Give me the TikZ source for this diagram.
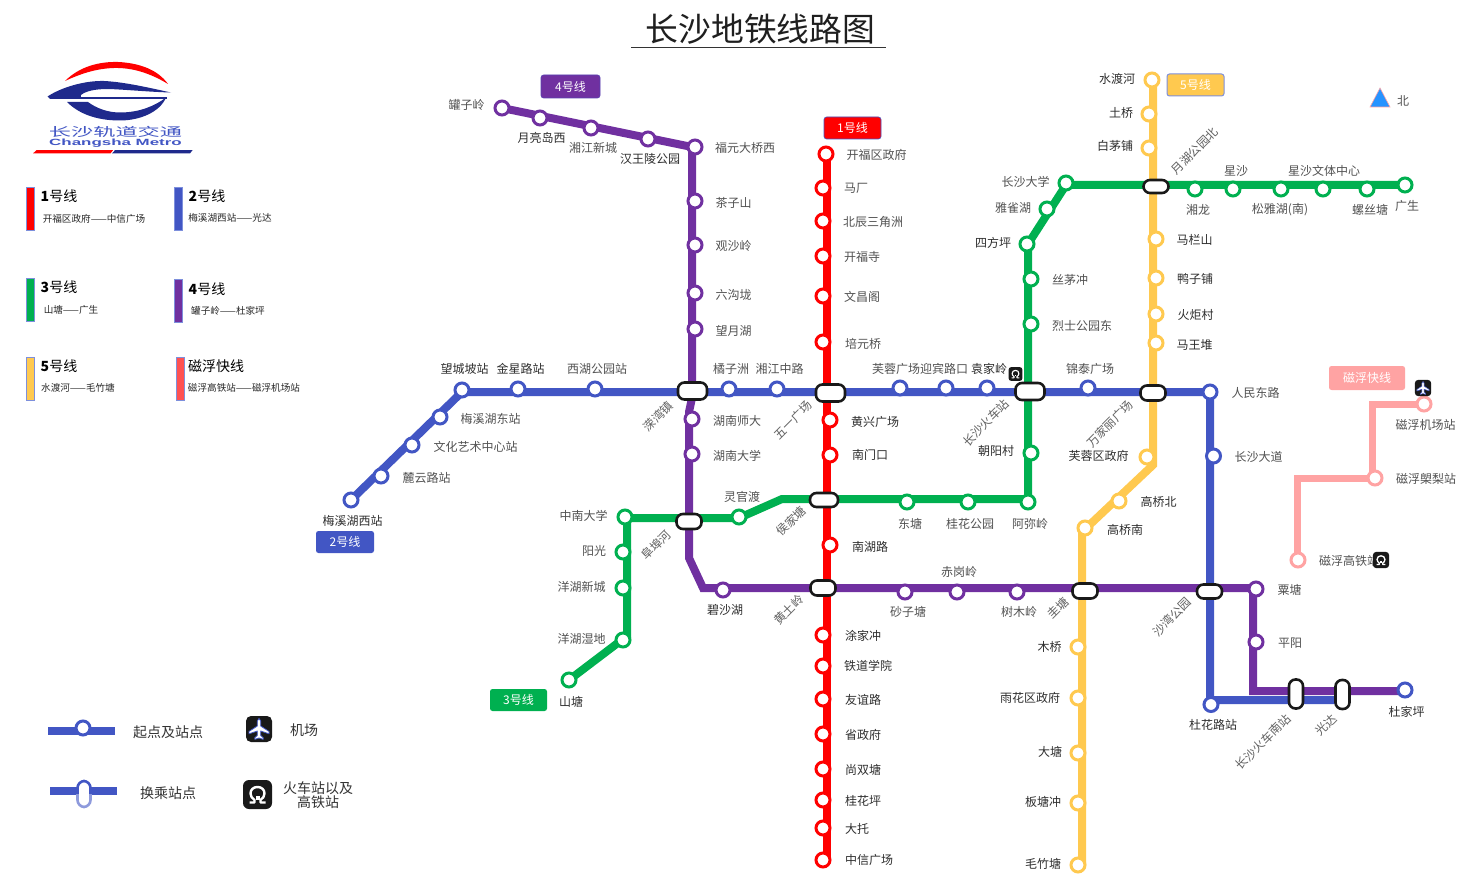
\documentclass[tikz,border=0pt]{standalone}
\usepackage{fontspec}
\setmainfont{Noto Sans CJK SC}
\newfontfamily\latinbold{Liberation Sans}
\definecolor{cred}{HTML}{FF0000}
\definecolor{cblue}{HTML}{4256C4}
\definecolor{cgreen}{HTML}{00B050}
\definecolor{cpurple}{HTML}{7030A0}
\definecolor{cyellow}{HTML}{FFC94F}
\definecolor{cpink}{HTML}{FFA3A3}
\definecolor{cnavy}{HTML}{1F2A8C}
\definecolor{cedge}{HTML}{7D8FDC}
\tikzset{
  metro/.style={line width=8pt,line join=miter},
  station/.style={circle,fill=white,line width=3pt,minimum size=14pt,inner sep=0pt},
  xchg/.style={rectangle,rounded corners=6.5pt,fill=white,draw=black!90,line width=2.6pt,inner sep=0pt},
  lbl/.style={text=black!68,font=\fontsize{12}{14}\selectfont,inner sep=0pt},
  lbd/.style={text=black!82,font=\fontsize{12}{14}\selectfont,inner sep=0pt},
  rlbl/.style={text=black!62,font=\fontsize{12}{14}\selectfont,inner sep=0pt,rotate=45},
  badge/.style={rectangle,rounded corners=2.5pt,text=white,font=\fontsize{12}{14}\selectfont,inner sep=0pt,minimum height=22pt},
  legbar/.style={rectangle,draw=cedge,line width=1pt,minimum width=8pt,minimum height=43pt,inner sep=0pt},
  legt/.style={text=black,font=\fontsize{14}{16}\selectfont,inner sep=0pt},
  legs/.style={text=black!85,font=\fontsize{9.6}{11}\selectfont,inner sep=0pt},
  legn/.style={text=black!80,font=\fontsize{14}{16}\selectfont,inner sep=0pt,align=center},
}
% id, x, y, colour, text, label x, label y
\newcommand{\stn}[8][lbl]{%
  \node[station,draw=#5] (#2) at (#3,#4) {};
  \node[#1] (#2-l) at (#7,#8) {#6};}
% id, x, y, w, h, text, label x, label y
\newcommand{\xch}[8]{%
  \node[xchg,minimum width=#4pt,minimum height=#5pt] (#1) at (#2,#3) {};
  \node[rlbl] (#1-l) at (#7,#8) {#6};}
% x, y, scale
\newcommand{\planeicon}[3]{%
  \begin{scope}[shift={(#1,#2)},scale=#3]
    \fill[black!90,rounded corners=#3*5pt] (-13,-13) rectangle (13,13);
    \fill[white,draw=cblue,line width=#3*.8pt,line join=round]
      (0,-10.5) -- (1.7,-8) -- (1.7,-3) -- (10,2.5) -- (10,4.8) -- (1.7,2) -- (1.7,6.5) -- (4.2,8.7) -- (4.2,10.3)
      -- (0,9) -- (-4.2,10.3) -- (-4.2,8.7) -- (-1.7,6.5) -- (-1.7,2) -- (-10,4.8) -- (-10,2.5) -- (-1.7,-3) -- (-1.7,-8) -- cycle;
  \end{scope}}
\newcommand{\trainicon}[3]{%
  \begin{scope}[shift={(#1,#2)},scale=#3]
    \fill[black!90,rounded corners=#3*6pt] (-14.5,-14.5) rectangle (14.5,14.5);
    \draw[white,line width=#3*2.4pt,line join=round]
      (-8,8) -- (-3,8) -- (-3,5.5) .. controls (-5.5,4) and (-7,1.5) .. (-7,-1)
      .. controls (-7,-5) and (-4,-7.5) .. (0,-7.5) .. controls (4,-7.5) and (7,-5) .. (7,-1)
      .. controls (7,1.5) and (5.5,4) .. (3,5.5) -- (3,8) -- (8,8);
    \fill[white] (-2,1.5) rectangle (2,5);
  \end{scope}}
\begin{document}
\begin{tikzpicture}[x=1pt,y=-1pt]
\useasboundingbox (0,0) rectangle (1469,885);
\fill[white] (0,0) rectangle (1469,885);

% ---------- title
\node[inner sep=0pt,text=black!88,font=\fontsize{32.8}{36}\selectfont] (title) at (760.5,29) {长沙地铁线路图};
\coordinate (ula) at (631,47);
\coordinate (ulb) at (886,47);
\draw[black!80,line width=.9pt] (ula) -- (ulb);

% ---------- logo
\fill[cred] (65,81) .. controls (80,66) and (100,61.5) .. (118,62)
  .. controls (140,63) and (158,70) .. (168,84) .. controls (150,73) and (132,67.5) .. (114,68)
  .. controls (96,68.5) and (80,74) .. (65,81) -- cycle;
\fill[cnavy] (47.5,96.5) .. controls (62,87) and (85,80.5) .. (104,81)
  .. controls (125,82) and (150,88) .. (171,92.5) .. controls (150,92) and (125,89.5) .. (108,89)
  .. controls (95,89) and (86,91) .. (81,95) .. controls (80,97) and (81,98) .. (83,99)
  -- (50,99) -- cycle;
\fill[cnavy] (67,102) -- (88,102) .. controls (96,108) and (108,113) .. (122,112.5)
  .. controls (140,112) and (155,106) .. (166,97.5) .. controls (160,112) and (140,120.5) .. (120,120.5)
  .. controls (95,120.5) and (78,113) .. (67,102) -- cycle;
\fill[cnavy] (81,96.8) rectangle (167,98.6);
\node[inner sep=0pt,text=cblue] (logoa) at (115.5,131.5) {\scalebox{1.85}[1]{\fontsize{12}{13}\selectfont 长沙轨道交通}};
\node[inner sep=0pt,text=cblue] (logob) at (115.5,143) {\scalebox{1.88}[1]{\latinbold\bfseries\fontsize{9}{10}\selectfont Changsha Metro}};
\fill[cred] (33,153.4) -- (36.5,150.2) -- (113,150.2) -- (110.5,153.4) -- cycle;
\fill[cnavy] (112,153.4) -- (115,150.2) -- (192.5,150.2) -- (190,153.4) -- cycle;

% ---------- line legend
\node[legbar,fill=cred] (kb1) at (30,209) {};
\node[legt] (kt1) at (59,196.5) {\textbf{1}号线};
\node[legs] (ks1) at (94,218.5) {开福区政府——中信广场};
\node[legbar,fill=cblue] (kb2) at (178,209) {};
\node[legt] (kt2) at (207,196.5) {\textbf{2}号线};
\node[legs] (ks2) at (230,218) {梅溪湖西站——光达};
\node[legbar,fill=cgreen] (kb3) at (30,300) {};
\node[legt] (kt3) at (59,287) {\textbf{3}号线};
\node[legs] (ks3) at (71,309.5) {山塘——广生};
\node[legbar,fill=cpurple] (kb4) at (178,301) {};
\node[legt] (kt4) at (207,289) {\textbf{4}号线};
\node[legs] (ks4) at (228,311) {罐子岭——杜家坪};
\node[legbar,fill=cyellow] (kb5) at (30,378.5) {};
\node[legt] (kt5) at (59,366) {\textbf{5}号线};
\node[legs] (ks5) at (78,388) {水渡河——毛竹塘};
\node[legbar,fill=cred!50!cpink] (kb6) at (180,378.5) {};
\node[legt] (kt6) at (216,366) {磁浮快线};
\node[legs] (ks6) at (244,388) {磁浮高铁站——磁浮机场站};

% ---------- symbol legend
\coordinate (sa) at (48,731);
\coordinate (sb) at (115,731);
\draw[metro,cblue] (sa) -- (sb);
\node[station,draw=cblue] (sc) at (83,728) {};
\node[legn] (sd) at (168,732) {起点及站点};
\coordinate (se) at (50,791);
\coordinate (sf) at (117,791);
\draw[metro,cblue] (se) -- (sf);
\node[rectangle,rounded corners=7pt,fill=white,minimum width=13pt,minimum height=26pt,inner sep=0pt] (sg) at (84,794) {};
\begin{scope}
  \clip (70,775) rectangle (98,794);
  \draw[cblue,line width=2.6pt,rounded corners=7pt] (77.5,781) rectangle (90.5,807);
\end{scope}
\begin{scope}
  \clip (70,794) rectangle (98,812);
  \draw[cblue!60!white,line width=2.6pt,rounded corners=7pt] (77.5,781) rectangle (90.5,807);
\end{scope}
\node[legn] (si) at (168,793) {换乘站点};
\planeicon{259}{729}{1}
\node[legn] (sj) at (304,730) {机场};
\trainicon{257.5}{794.5}{1}
\node[legn] (sk) at (318,795) {火车站以及\\[-2pt]高铁站};

% ---------- north
\fill[blue!50!cyan!85!white,draw=cpink,line width=.6pt] (1380,88) -- (1390,107) -- (1370,107) -- cycle;
\node[lbl] (north) at (1403,101) {北};

% ---------- line paths
\coordinate (b1) at (462,392);
\coordinate (b2) at (1210,392);
\coordinate (b3) at (1210,700);
\coordinate (b4) at (1342,700);
\coordinate (b0) at (351,500);
\draw[metro,cblue] (b0) -- (b1) -- (b2) -- (b3) -- (b4);

\coordinate (p0) at (502,108);
\coordinate (p1) at (692,147);
\coordinate (p2) at (692,398);
\coordinate (p3) at (689,412);
\coordinate (p4) at (689,558);
\coordinate (p5) at (703,588);
\coordinate (p6) at (1253,588);
\coordinate (p7) at (1253,691);
\coordinate (p8) at (1405,691);
\draw[metro,cpurple] (p0) -- (p1) -- (p2) -- (p3) -- (p4) -- (p5) -- (p6) -- (p7) -- (p8);

\coordinate (r0) at (827,154);
\coordinate (r1) at (827,860);
\draw[metro,cred] (r0) -- (r1);

\coordinate (g0) at (569,680);
\coordinate (g1) at (627,636);
\coordinate (g2) at (627,518);
\coordinate (g3) at (739,518);
\coordinate (g4) at (782,499);
\coordinate (g5) at (1028,499);
\coordinate (g6) at (1028,244);
\coordinate (g7) at (1066,185);
\coordinate (g8) at (1405,185);
\draw[metro,cgreen] (g0) -- (g1) -- (g2) -- (g3) -- (g4) -- (g5) -- (g6) -- (g7) -- (g8);

\coordinate (y0) at (1153,80);
\coordinate (y1) at (1153,465);
\coordinate (y2) at (1082,532);
\coordinate (y3) at (1082,865);
\draw[metro,cyellow] (y0) -- (y1) -- (y2) -- (y3);

\coordinate (m0) at (1297,560);
\coordinate (m1) at (1297,478);
\coordinate (m2) at (1372,478);
\coordinate (m3) at (1372,404);
\coordinate (m4) at (1424,404);
\draw[metro,line width=7pt,cpink] (m0) -- (m1) -- (m2) -- (m3) -- (m4);

% ---------- line 1
\stn{kaifu}{826}{154}{cred}{开福区政府}{876.5}{155}
\stn{machang}{823}{188}{cred}{马厂}{856}{188}
\stn{beichen}{823}{221}{cred}{北辰三角洲}{873}{222}
\stn{kaifusi}{823}{256}{cred}{开福寺}{862}{257}
\stn{wenchang}{823}{296}{cred}{文昌阁}{862}{297}
\stn{peiyuan}{823}{342}{cred}{培元桥}{863}{344}
\stn[lbd]{huangxing}{830}{420}{cred}{黄兴广场}{875}{422}
\stn[lbd]{nanmen}{830}{455}{cred}{南门口}{870}{455}
\stn[lbd]{nanhu}{830}{545}{cred}{南湖路}{870}{547}
\stn[lbd]{tujia}{823}{635}{cred}{涂家冲}{863}{636}
\stn[lbd]{tiedao}{823}{666}{cred}{铁道学院}{868}{666}
\stn[lbd]{youyi}{823}{699}{cred}{友谊路}{863}{700}
\stn[lbd]{shengzf}{823}{734}{cred}{省政府}{863}{735}
\stn[lbd]{shangshuang}{823}{769}{cred}{尚双塘}{863}{770}
\stn[lbd]{guihuaping}{823}{800}{cred}{桂花坪}{863}{801}
\stn[lbd]{datuo}{823}{828}{cred}{大托}{857}{829}
\stn[lbd]{zhongxin}{823}{860}{cred}{中信广场}{869}{860}

% ---------- line 2
\stn[lbd]{meixiw}{351}{500}{cblue}{梅溪湖西站}{352.5}{521}
\stn{luyun}{381}{476}{cblue}{麓云路站}{426.5}{478}
\stn{wenhua}{412}{445}{cblue}{文化艺术中心站}{475.5}{447}
\stn{meixie}{440}{417}{cblue}{梅溪湖东站}{490.5}{419}
\stn[lbd]{wangcheng}{462}{390}{cblue}{望城坡站}{464.5}{369}
\stn[lbd]{jinxing}{518}{389}{cblue}{金星路站}{520.5}{369}
\stn{xihu}{595}{389}{cblue}{西湖公园站}{597}{369}
\stn{juzi}{729}{389}{cblue}{橘子洲}{731}{369}
\stn{xiangjiang}{777}{389}{cblue}{湘江中路}{779.5}{369}
\stn{furong}{900}{388}{cblue}{芙蓉广场}{896}{369}
\stn{yingbin}{946}{388}{cblue}{迎宾路口}{944}{369}
\stn[lbd]{yuanjia}{987}{388}{cblue}{袁家岭}{989}{369}
\stn{jintai}{1088}{388}{cblue}{锦泰广场}{1090}{369}
\stn{renmin}{1210}{392}{cblue}{人民东路}{1255.5}{393}
\stn{csdadao}{1213.5}{456}{cblue}{长沙大道}{1258.5}{457}
\stn[lbd]{duhua}{1211}{704.5}{cblue}{杜花路站}{1213}{725}

% ---------- line 3
\stn[lbd]{shantang}{569}{680}{cgreen}{山塘}{571}{702}
\stn{yanghusd}{623}{640}{cgreen}{洋湖湿地}{581.5}{639}
\stn{yanghuxc}{623}{588}{cgreen}{洋湖新城}{581.5}{587}
\stn{yangguang}{623}{552}{cgreen}{阳光}{594}{551}
\stn{zhongnan}{625}{517}{cgreen}{中南大学}{583.5}{516}
\stn{lingguan}{739}{517}{cgreen}{灵官渡}{742}{497}
\stn{dongtang}{907}{502}{cgreen}{东塘}{910}{524}
\stn{guihuagy}{968}{502}{cgreen}{桂花公园}{970}{524}
\stn{amiling}{1028}{502}{cgreen}{阿弥岭}{1030}{524}
\stn[lbd]{chaoyang}{1031}{453}{cgreen}{朝阳村}{996}{451}
\stn{lieshi}{1031}{324}{cgreen}{烈士公园东}{1082}{326}
\stn{simao}{1031}{279}{cgreen}{丝茅冲}{1070}{280}
\stn[lbd]{sifang}{1027}{244}{cgreen}{四方坪}{993}{243}
\stn{yaque}{1047}{209}{cgreen}{雅雀湖}{1013}{208}
\stn{csdaxue}{1066}{183}{cgreen}{长沙大学}{1025.5}{182}
\stn{xianglong}{1195}{189}{cgreen}{湘龙}{1198}{210}
\stn{xingsha}{1233}{189}{cgreen}{星沙}{1236}{171}
\stn{songya}{1281}{189}{cgreen}{松雅湖(南)}{1280}{210}
\stn{wenti}{1323}{189}{cgreen}{星沙文体中心}{1324}{171}
\stn{luosi}{1367}{189}{cgreen}{螺丝塘}{1370}{210}
\stn{guangsheng}{1405}{185}{cgreen}{广生}{1407}{206}

% ---------- line 4
\stn{guanzi}{502}{108}{cpurple}{罐子岭}{466.5}{105}
\stn[lbd]{yueliang}{540}{118}{cpurple}{月亮岛西}{541.5}{138}
\stn{xjxc}{591}{128}{cpurple}{湘江新城}{593}{148}
\stn[lbd]{hanwang}{648}{139}{cpurple}{汉王陵公园}{650}{159}
\stn{fuyuan}{695}{147}{cpurple}{福元大桥西}{745}{148}
\stn{chazi}{695}{201}{cpurple}{茶子山}{733.5}{202.5}
\stn{guansha}{695}{245}{cpurple}{观沙岭}{733.5}{245.5}
\stn{liugou}{695}{293}{cpurple}{六沟垅}{733.5}{295}
\stn{wangyue}{695}{329}{cpurple}{望月湖}{733.5}{331}
\stn{hnsd}{692}{419}{cpurple}{湖南师大}{737}{421}
\stn{hndx}{692}{454}{cpurple}{湖南大学}{737}{456}
\stn[lbd]{bisha}{723}{590}{cpurple}{碧沙湖}{725}{610}
\stn{shazi}{905}{592}{cpurple}{砂子塘}{908}{612}
\stn{chigang}{957}{592}{cpurple}{赤岗岭}{959}{572}
\stn{shumu}{1017}{592}{cpurple}{树木岭}{1019}{612}
\stn{sutang}{1256}{589}{cpurple}{粟塘}{1289.5}{590}
\stn{pingyang}{1256}{642}{cpurple}{平阳}{1290}{643}
\stn[lbd]{dujia}{1405}{690}{cblue}{杜家坪}{1406.5}{711.5}

% ---------- line 5
\stn[lbd]{shuidu}{1152}{80}{cyellow}{水渡河}{1117}{79}
\stn[lbd]{tuqiao}{1149}{114}{cyellow}{土桥}{1121}{113}
\stn[lbd]{baimao}{1149}{148}{cyellow}{白茅铺}{1115}{146}
\stn[lbd]{malan}{1156}{239}{cyellow}{马栏山}{1194.5}{240}
\stn[lbd]{yazi}{1156}{278}{cyellow}{鸭子铺}{1195}{279}
\stn[lbd]{huoju}{1156}{314}{cyellow}{火炬村}{1195.5}{315}
\stn[lbd]{mawang}{1156}{343}{cyellow}{马王堆}{1194.5}{344.5}
\stn[lbd]{furongqu}{1147}{457}{cyellow}{芙蓉区政府}{1098.5}{456}
\stn[lbd]{gqbei}{1119}{501}{cyellow}{高桥北}{1158.5}{502}
\stn[lbd]{gqnan}{1085}{528}{cyellow}{高桥南}{1125}{530}
\stn[lbd]{muqiao}{1078}{647}{cyellow}{木桥}{1049.5}{647}
\stn[lbd]{yuhua}{1078}{698}{cyellow}{雨花区政府}{1030}{698}
\stn[lbd]{datang}{1078}{753}{cyellow}{大塘}{1050}{752}
\stn[lbd]{bantang}{1078}{803}{cyellow}{板塘冲}{1043}{802}
\stn[lbd]{maozhu}{1078}{865}{cyellow}{毛竹塘}{1043}{864}

% ---------- maglev
\stn{cfgt}{1298}{560}{cpink}{磁浮高铁站}{1349}{561}
\stn{cflang}{1375}{478}{cpink}{磁浮㮾梨站}{1426}{479}
\stn{cfjc}{1424}{404}{cpink}{磁浮机场站}{1425.5}{425}

% ---------- interchanges
\xch{yingwan}{692.5}{391}{29}{17}{溁湾镇}{658}{416}
\xch{wuyi}{830.5}{393}{29}{17}{五一广场}{793}{420}
\xch{cshcz}{1030}{391.5}{29}{17}{长沙火车站}{986}{423}
\xch{wanjiali}{1153}{393}{25}{15}{万家丽广场}{1110}{424}
\xch{houjia}{824}{500}{28}{14}{侯家塘}{791}{521}
\xch{fubu}{689}{521.5}{25}{15}{阜埠河}{656}{545}
\xch{huangtu}{823}{588}{25}{15}{黄土岭}{789}{610}
\xch{guitang}{1085}{591}{25}{15}{圭塘}{1058}{608}
\xch{shawan}{1209.5}{591.5}{25}{14}{沙湾公园}{1172}{617}
\xch{yuehu}{1156}{186.5}{25}{13}{月湖公园北}{1195}{151}
\xch{csnan}{1296}{694}{14}{29}{长沙火车南站}{1263}{742}
\xch{guangda}{1342.5}{694.5}{14}{29}{光达}{1326}{725}

% ---------- line badges
\node[badge,fill=cpurple,minimum width=59pt,minimum height=23pt,draw=cblue!50!cpurple,line width=.6pt] (bd4) at (570.5,86.5) {4号线};
\node[badge,fill=cred,minimum width=57pt,draw=cblue,line width=.6pt] (bd1) at (852.5,128) {1号线};
\node[badge,fill=cyellow,minimum width=57pt,draw=cedge,line width=1pt] (bd5) at (1195.5,85) {5号线};
\node[badge,fill=cblue,minimum width=58pt] (bd2) at (345,542) {2号线};
\node[badge,fill=cgreen,minimum width=57pt] (bd3) at (518.5,700) {3号线};
\node[badge,fill=cpink,minimum width=76pt,minimum height=24pt] (bd6) at (1367,378) {磁浮快线};

% ---------- small icons
\trainicon{1015.5}{374}{.48}
\planeicon{1423}{388}{.62}
\trainicon{1381}{560}{.56}
\end{tikzpicture}
\end{document}
